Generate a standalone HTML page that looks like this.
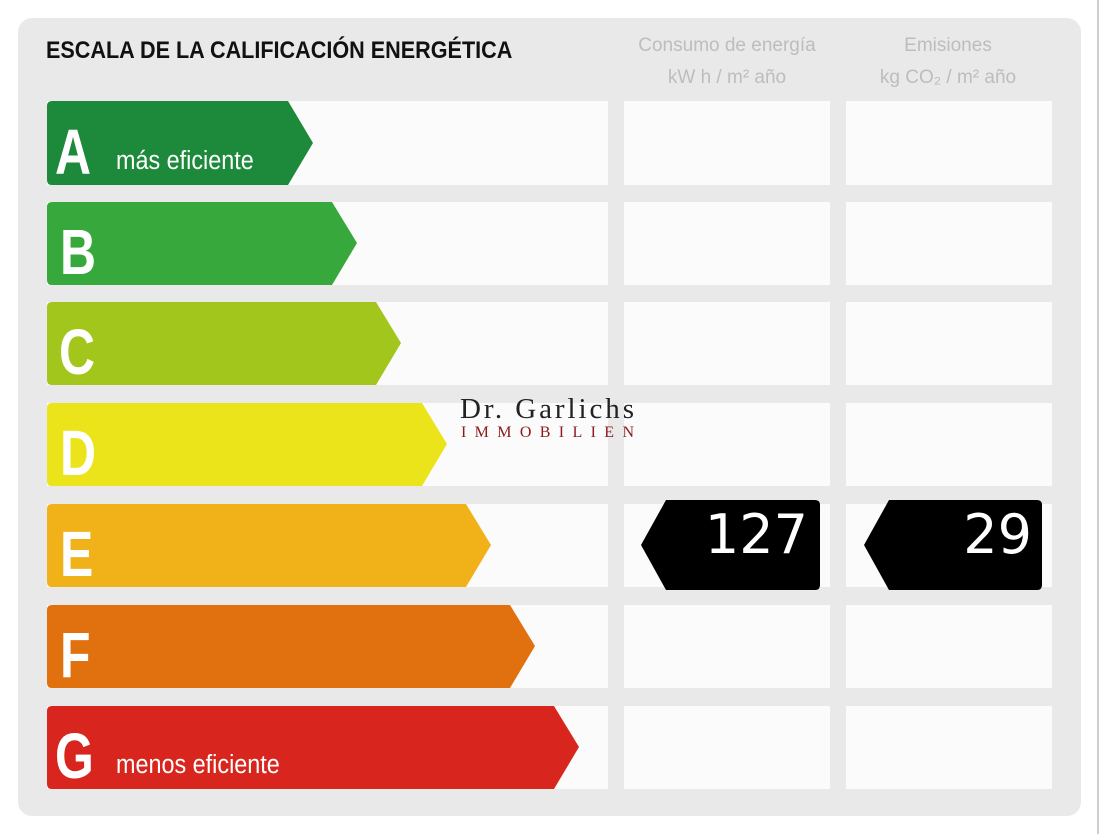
<!DOCTYPE html>
<html><head><meta charset="utf-8"><style>
html,body{margin:0;padding:0;background:#fff;}
svg{display:block;}
</style></head><body>
<svg width="1100" height="834" viewBox="0 0 1100 834" xmlns="http://www.w3.org/2000/svg">
<rect x="0" y="0" width="1100" height="834" fill="#fff"/>
<line x1="1098" y1="0" x2="1098" y2="834" stroke="#cfcfcf" stroke-width="2"/>
<rect x="18" y="18" width="1063" height="798" rx="14" fill="#e9e9ea"/>
<text x="46" y="58" font-family="Liberation Sans, sans-serif" font-weight="bold" font-size="24" fill="#111" transform="translate(46 0) scale(0.9 1) translate(-46 0)">ESCALA DE LA CALIFICACIÓN ENERGÉTICA</text>
<g font-family="Liberation Sans, sans-serif" font-size="19" fill="#bdbdbd" text-anchor="middle">
<text x="727" y="51">Consumo de energía</text>
<text x="727" y="83">kW h / m² año</text>
<text x="948" y="51">Emisiones</text>
<text x="948" y="83">kg CO₂ / m² año</text>
</g>
<g fill="#fbfbfb">
<rect x="47" y="101" width="561" height="84"/><rect x="624" y="101" width="206" height="84"/><rect x="846" y="101" width="206" height="84"/>
<rect x="47" y="202" width="561" height="83"/><rect x="624" y="202" width="206" height="83"/><rect x="846" y="202" width="206" height="83"/>
<rect x="47" y="302" width="561" height="83"/><rect x="624" y="302" width="206" height="83"/><rect x="846" y="302" width="206" height="83"/>
<rect x="47" y="403" width="561" height="83"/><rect x="624" y="403" width="206" height="83"/><rect x="846" y="403" width="206" height="83"/>
<rect x="47" y="504" width="561" height="83"/><rect x="624" y="504" width="206" height="83"/><rect x="846" y="504" width="206" height="83"/>
<rect x="47" y="605" width="561" height="83"/><rect x="624" y="605" width="206" height="83"/><rect x="846" y="605" width="206" height="83"/>
<rect x="47" y="706" width="561" height="83"/><rect x="624" y="706" width="206" height="83"/><rect x="846" y="706" width="206" height="83"/>
</g>
<g>
<path d="M52 101 H288 L313 143 L288 185 H52 Q47 185 47 180 V106 Q47 101 52 101Z" fill="#1d8a3b"/>
<path d="M52 202 H332 L357 243 L332 285 H52 Q47 285 47 280 V207 Q47 202 52 202Z" fill="#37a83b"/>
<path d="M52 302 H376 L401 343 L376 385 H52 Q47 385 47 380 V307 Q47 302 52 302Z" fill="#a2c61c"/>
<path d="M52 403 H422 L447 444 L422 486 H52 Q47 486 47 481 V408 Q47 403 52 403Z" fill="#ece41b"/>
<path d="M52 504 H466 L491 545 L466 587 H52 Q47 587 47 582 V509 Q47 504 52 504Z" fill="#f1b118"/>
<path d="M52 605 H510 L535 646 L510 688 H52 Q47 688 47 683 V610 Q47 605 52 605Z" fill="#e1700f"/>
<path d="M52 706 H554 L579 747 L554 789 H52 Q47 789 47 784 V711 Q47 706 52 706Z" fill="#d8261e"/>
</g>
<g font-family="Liberation Sans, sans-serif" font-weight="bold" fill="#fff">
<g font-size="64">
<text x="55" y="174" transform="translate(55 0) scale(0.78 1) translate(-55 0)">A</text>
<text x="60" y="274" transform="translate(60 0) scale(0.78 1) translate(-60 0)">B</text>
<text x="59" y="374" transform="translate(59 0) scale(0.78 1) translate(-59 0)">C</text>
<text x="60" y="475" transform="translate(60 0) scale(0.78 1) translate(-60 0)">D</text>
<text x="60" y="576" transform="translate(60 0) scale(0.78 1) translate(-60 0)">E</text>
<text x="60" y="677" transform="translate(60 0) scale(0.78 1) translate(-60 0)">F</text>
<text x="55" y="778" transform="translate(55 0) scale(0.78 1) translate(-55 0)">G</text>
</g>
<g font-size="26" font-weight="normal">
<text x="116" y="169" transform="translate(116 0) scale(0.9 1) translate(-116 0)">más eficiente</text>
<text x="116" y="773" transform="translate(116 0) scale(0.9 1) translate(-116 0)">menos eficiente</text>
</g>
</g>
<text x="460" y="418" font-family="Liberation Serif, serif" font-size="29" fill="#222" textLength="174">Dr. Garlichs</text>
<text x="461" y="437" font-family="Liberation Serif, serif" font-size="16" fill="#8b1a1a" textLength="173">IMMOBILIEN</text>
<path d="M666 500 H815 Q820 500 820 505 V585 Q820 590 815 590 H666 L641 545Z" fill="#000"/>
<path d="M889 500 H1037 Q1042 500 1042 505 V585 Q1042 590 1037 590 H889 L864 545Z" fill="#000"/>
<g font-family="DejaVu Sans, sans-serif" font-size="54" fill="#fff" text-anchor="end">
<text x="808" y="553">127</text>
<text x="1032" y="553">29</text>
</g>
</svg>
</body></html>
